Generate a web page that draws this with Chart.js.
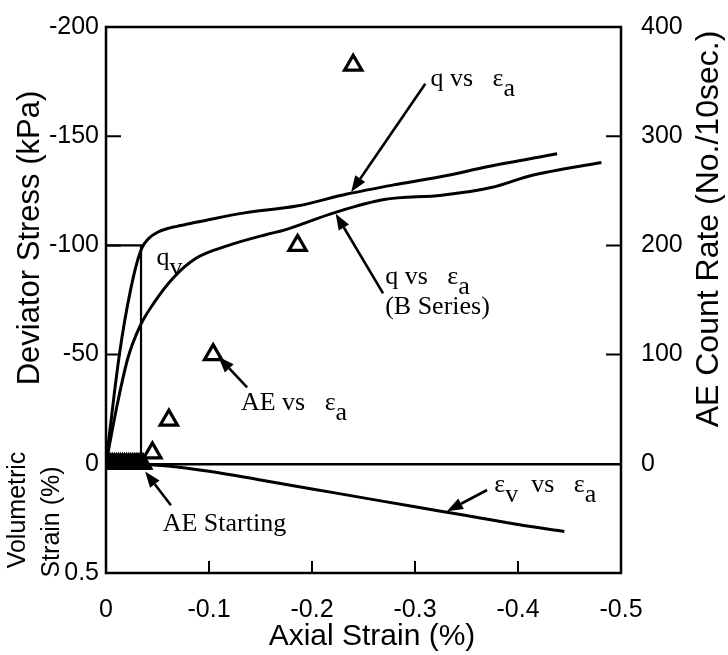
<!DOCTYPE html>
<html>
<head>
<meta charset="utf-8">
<script src="https://cdn.jsdelivr.net/npm/chart.js@4.4.1/dist/chart.umd.min.js"></script>
<style>
  html, body { margin: 0; padding: 0; background: #fff; }
  #wrap { width: 728px; height: 655px; position: relative; }
</style>
</head>
<body>
<div id="wrap"><canvas id="chart"></canvas></div>
<script>
// axis ticks
const strainTicks = [0, -0.1, -0.2, -0.3, -0.4, -0.5];
const stressTicks = [-200, -150, -100, -50, 0];
const volTicks = [0, 0.5];
const aeTicks = [0, 100, 200, 300, 400];

// volumetric strain shares the left axis: 0.5 % sits where +50 kPa would be
const volToStress = 100;

// q vs axial strain
const qStrain = [0, -0.008, -0.013, -0.018, -0.024, -0.03, -0.035, -0.041, -0.05, -0.062, -0.082, -0.102, -0.136, -0.185, -0.234, -0.283, -0.331, -0.37, -0.438];
const qStress = [0, -32, -50, -65, -80, -92, -99, -103, -106, -108, -110, -112, -115, -118, -123.5, -128, -132, -136, -142];

// q vs axial strain, B series
const qbStrain = [0, -0.01, -0.021, -0.033, -0.047, -0.065, -0.087, -0.119, -0.156, -0.173, -0.222, -0.27, -0.326, -0.374, -0.413, -0.481];
const qbStress = [0, -25, -48, -63, -74, -85, -94, -100, -105, -107, -115, -121, -123, -126.5, -132, -138];

// volumetric strain vs axial strain
const evStrain = [0, -0.02, -0.04, -0.06, -0.1, -0.15, -0.2, -0.25, -0.3, -0.35, -0.4, -0.445];
const evVol = [0, 0, 0.003, 0.01, 0.034, 0.074, 0.115, 0.156, 0.197, 0.237, 0.278, 0.31];

// AE count rate
const aeStrain = [-0.045, -0.061, -0.104, -0.186, -0.24];
const aeCount = [10, 40, 100, 200, 365];
const aeStartStrain = [0, -0.002, -0.004, -0.006, -0.008, -0.01, -0.012, -0.014, -0.016, -0.018, -0.02, -0.022, -0.024, -0.026, -0.028, -0.03, -0.032, -0.034, -0.036];
const aeStartCount = [0, 0, 0, 0, 0, 0, 0, 0, 0, 0, 0, 0, 0, 0, 0, 0, 0, 0, 0];

// yield point q_v
const qvStrain = -0.034;
const qvStress = -100;

const pts = (xs, ys) => xs.map((x, i) => ({ x: x, y: ys[i] }));

const SANS = '"Liberation Sans", Arial, Helvetica, sans-serif';
const SERIF = '"Liberation Serif", "Times New Roman", serif';

// text labels, placed in data units
const notes = [
  { parts: [['q vs   \u03b5'], ['a', true]], x: -0.315, y: -173 },
  { parts: [['q'], ['v', true]], x: -0.049, y: -91 },
  { parts: [['q vs   \u03b5'], ['a', true]], x: -0.271, y: -82.5 },
  { parts: [['(B Series)']], x: -0.271, y: -68.4 },
  { parts: [['AE vs   \u03b5'], ['a', true]], x: -0.131, y: -24.5 },
  { parts: [['\u03b5'], ['v', true], ['  vs   \u03b5'], ['a', true]], x: -0.377, y: 12.7 },
  { parts: [['AE Starting']], x: -0.055, y: 30.6 }
];

const arrows = [
  { from: [-0.31, -174], to: [-0.238, -124.5], axis: 'y' },
  { from: [-0.269, -78], to: [-0.223, -114.5], axis: 'y' },
  { from: [-0.137, -35], to: [-0.109, -49], axis: 'y' },
  { from: [-0.063, 19], to: [-0.038, 3.5], axis: 'y' },
  { from: [-0.37, 0.12], to: [-0.331, 0.217], axis: 'yv' }
];

function drawArrow(ctx, x1, y1, x2, y2) {
  const ang = Math.atan2(y2 - y1, x2 - x1);
  const len = 16, half = 6;
  const bx = x2 - Math.cos(ang) * len, by = y2 - Math.sin(ang) * len;
  ctx.beginPath();
  ctx.moveTo(x1, y1);
  ctx.lineTo(bx, by);
  ctx.stroke();
  ctx.beginPath();
  ctx.moveTo(x2, y2);
  ctx.lineTo(bx - Math.sin(ang) * half, by + Math.cos(ang) * half);
  ctx.lineTo(bx + Math.sin(ang) * half, by - Math.cos(ang) * half);
  ctx.closePath();
  ctx.fill();
}

function vtext(ctx, txt, x, y) {
  ctx.save();
  ctx.translate(x, y);
  ctx.rotate(-Math.PI / 2);
  ctx.fillText(txt, 0, 0);
  ctx.restore();
}

const decor = {
  id: 'decor',
  afterDraw(chart) {
    const ctx = chart.ctx;
    const ca = chart.chartArea;
    const sx = chart.scales.x, sy = chart.scales.y, sr = chart.scales.yr;
    ctx.save();
    ctx.strokeStyle = '#000';
    ctx.fillStyle = '#000';

    // frame
    ctx.lineWidth = 2.5;
    ctx.strokeRect(ca.left, ca.top, ca.right - ca.left, ca.bottom - ca.top);

    // inward tick marks
    ctx.lineWidth = 2;
    ctx.beginPath();
    strainTicks.slice(1, -1).forEach(v => {
      const p = sx.getPixelForValue(v);
      ctx.moveTo(p, ca.bottom);
      ctx.lineTo(p, ca.bottom - 12);
    });
    stressTicks.slice(1, -1).forEach(v => {
      const p = sy.getPixelForValue(v);
      ctx.moveTo(ca.left, p);
      ctx.lineTo(ca.left + 15, p);
    });
    aeTicks.slice(1, -1).forEach(v => {
      const p = sr.getPixelForValue(v);
      ctx.moveTo(ca.right, p);
      ctx.lineTo(ca.right - 15, p);
    });
    ctx.stroke();

    // axis titles
    ctx.textAlign = 'center';
    ctx.textBaseline = 'middle';
    ctx.font = '30px ' + SANS;
    ctx.fillText('Axial Strain (%)', 372, 637);
    ctx.font = '31px ' + SANS;
    vtext(ctx, 'Deviator Stress (kPa)', 30, 238);
    ctx.font = '32px ' + SANS;
    vtext(ctx, 'AE Count Rate (No./10sec.)', 709, 229);
    ctx.font = '25px ' + SANS;
    vtext(ctx, 'Volumetric', 18, 510);
    vtext(ctx, 'Strain (%)', 52, 522);

    // annotations
    ctx.font = '26px ' + SERIF;
    ctx.textAlign = 'left';
    ctx.textBaseline = 'alphabetic';
    notes.forEach(n => {
      let px = sx.getPixelForValue(n.x);
      const py = sy.getPixelForValue(n.y);
      n.parts.forEach(p => {
        ctx.fillText(p[0], px, py + (p[1] ? 10 : 0));
        px += ctx.measureText(p[0]).width;
      });
    });

    ctx.lineWidth = 2.6;
    arrows.forEach(a => {
      const s = chart.scales[a.axis];
      drawArrow(ctx,
        sx.getPixelForValue(a.from[0]), s.getPixelForValue(a.from[1]),
        sx.getPixelForValue(a.to[0]), s.getPixelForValue(a.to[1]));
    });
    ctx.restore();
  }
};

const lineStyle = {
  type: 'line',
  borderColor: '#000',
  borderWidth: 3,
  pointRadius: 0,
  fill: false,
  cubicInterpolationMode: 'monotone'
};

new Chart(document.getElementById('chart'), {
  data: {
    datasets: [
      Object.assign({}, lineStyle, { label: 'q vs ea', data: pts(qStrain, qStress), yAxisID: 'y' }),
      Object.assign({}, lineStyle, { label: 'q vs ea (B Series)', data: pts(qbStrain, qbStress), yAxisID: 'y' }),
      Object.assign({}, lineStyle, {
        label: 'qv', yAxisID: 'y', borderWidth: 2.2, cubicInterpolationMode: 'default', tension: 0,
        data: [{ x: 0, y: qvStress }, { x: qvStrain, y: qvStress }, { x: qvStrain, y: 0 }]
      }),
      Object.assign({}, lineStyle, { label: 'ev vs ea', data: pts(evStrain, evVol), yAxisID: 'yv' }),
      {
        type: 'scatter', label: 'AE Starting', yAxisID: 'yr',
        data: pts(aeStartStrain, aeStartCount),
        pointStyle: 'triangle', pointRadius: 10, borderWidth: 2,
        borderColor: '#000', backgroundColor: '#000'
      },
      {
        type: 'scatter', label: 'AE vs ea', yAxisID: 'yr',
        data: pts(aeStrain, aeCount),
        pointStyle: 'triangle', pointRadius: 10, borderWidth: 3.2,
        borderColor: '#000', backgroundColor: '#fff'
      }
    ]
  },
  options: {
    responsive: true,
    maintainAspectRatio: false,
    animation: false,
    events: [],
    layout: { padding: { top: 26, left: 0, right: 0, bottom: 0 } },
    plugins: { legend: { display: false }, tooltip: { enabled: false } },
    scales: {
      x: {
        type: 'linear', position: 'bottom', min: -0.5, max: 0, reverse: true,
        afterBuildTicks: s => { s.ticks = strainTicks.map(v => ({ value: v })); },
        afterFit: s => { s.height = 82; },
        grid: { display: false },
        border: { display: false },
        ticks: {
          color: '#000', padding: 14, maxRotation: 0, autoSkip: false,
          font: { family: SANS, size: 25 },
          callback: v => (Math.abs(v) < 1e-9 ? '0' : v.toFixed(1))
        }
      },
      y: {
        type: 'linear', position: 'left', min: -200, max: 50, reverse: true,
        afterBuildTicks: s => {
          s.ticks = stressTicks
            .concat(volTicks.filter(v => v > 0).map(v => v * volToStress))
            .map(v => ({ value: v }));
        },
        afterFit: s => { s.width = 106; },
        grid: {
          drawTicks: false, lineWidth: 2.5,
          color: c => (c.tick && c.tick.value === 0 ? '#000' : 'rgba(0,0,0,0)')
        },
        border: { display: false },
        ticks: {
          color: '#000', padding: 7,
          font: { family: SANS, size: 25 },
          callback: v => (v > 0 ? String(v / volToStress) : String(v))
        }
      },
      yv: {
        type: 'linear', display: false, reverse: true,
        min: -200 / volToStress, max: 50 / volToStress
      },
      yr: {
        type: 'linear', position: 'right', min: -100, max: 400,
        afterBuildTicks: s => { s.ticks = aeTicks.map(v => ({ value: v })); },
        afterFit: s => { s.width = 107; },
        grid: { display: false },
        border: { display: false },
        ticks: {
          color: '#000', padding: 12,
          font: { family: SANS, size: 25 }
        }
      }
    }
  },
  plugins: [decor]
});
</script>
</body>
</html>
